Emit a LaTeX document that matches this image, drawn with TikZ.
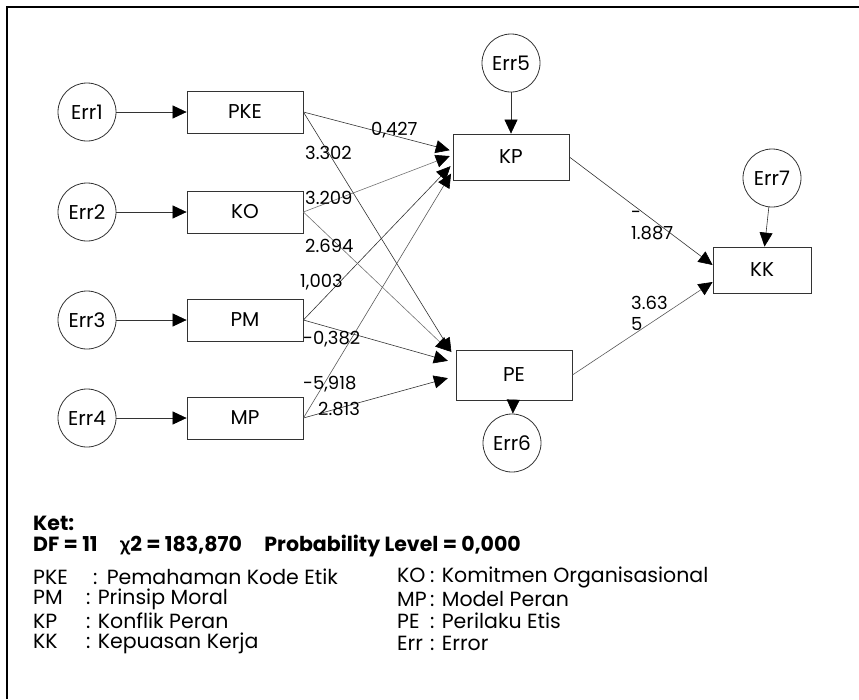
\documentclass[tikz,border=0pt]{standalone}
\usepackage{fontspec}
\setmainfont{Poppins}
\newfontfamily\greekfont{Lato}
\usetikzlibrary{arrows.meta,calc}

\newcommand{\abbr}[2]{\makebox[#1][l]{#2}}

\begin{document}
\begin{tikzpicture}[x=1pt, y=-1pt, >={Triangle[length=14pt,width=13pt,color=black]},
  txt/.style={font=\fontsize{20}{22}\selectfont},
  box/.style={txt, draw=black!80, line width=0.8pt, minimum width=116pt, minimum height=42pt, inner sep=0pt},
  err/.style={txt, draw=black!80, line width=0.8pt, circle, minimum size=58pt, inner sep=0pt},
  path/.style={->, draw=black!80, line width=0.6pt},
  wt/.style={font=\fontsize{18}{21}\selectfont, inner sep=0pt, anchor=west, align=left},
  leg/.style={font=\fontsize{20.5}{22}\selectfont, inner sep=0pt, anchor=west}]

\useasboundingbox (0,0) rectangle (859,699);
\draw[line width=1.6pt] (7,699) -- (7,7) -- (859,7);

\node[err] (e1) at (87,112) {Err1};
\node[err] (e2) at (87,212) {Err2};
\node[err] (e3) at (87,320) {Err3};
\node[err] (e4) at (87,418) {Err4};

\node[box] (pke) at (245,112) {PKE};
\node[box] (ko) at (245,212) {KO};
\node[box] (pm) at (245,320) {PM};
\node[box] (mp) at (245,418) {MP};

\node[box, minimum height=46pt] (kp) at (511,157) {KP};
\node[box, minimum height=50pt] (pe) at (514,375) {PE};
\node[box, minimum width=98pt, minimum height=46pt] (kk) at (762,270) {KK};

\node[err] (e5) at (511,63) {Err5};
\node[err] (e6) at (512,443) {Err6};
\node[err] (e7) at (772,178) {Err7};

\draw[path] (e1) -- (pke);
\draw[path] (e2) -- (ko);
\draw[path] (e3) -- (pm);
\draw[path] (e4) -- (mp);
\draw[path] (e5) -- (kp);
\draw[path] (pe) -- (e6);
\draw[path] (e7) -- (kk);

\draw[path, shorten >=3pt] (pke.east) -- ([yshift=6pt]kp.west);
\draw[path, draw=black!55, shorten >=3pt] (ko.east) -- ([yshift=2pt]kp.west);
\draw[path, shorten >=3pt] (pm.east) -- ([yshift=-7pt]kp.west);
\draw[path, draw=black!65, shorten >=3pt] (mp.east) -- ([yshift=-14pt]kp.west);

\draw[path, shorten >=8pt] (pke.east) -- ([yshift=16pt]pe.west);
\draw[path, draw=black!55, shorten >=8pt] (ko.east) -- ([yshift=18pt]pe.west);
\draw[path, shorten >=8pt] (pm.east) -- ([yshift=12pt]pe.west);
\draw[path, shorten >=8pt] (mp.east) -- ([yshift=-1pt]pe.west);

\draw[path] (kp.east) -- ([yshift=5pt]kk.west);
\draw[path, draw=black!65] (pe.east) -- ([yshift=-12pt]kk.west);

\node[wt] (w1) at (371,130) {0,427};
\node[wt] (w2) at (305,153) {3.302};
\node[wt] (w3) at (305,198) {3.209};
\node[wt] (w4) at (305,246) {2.694};
\node[wt] (w5) at (300,282) {1,003};
\node[wt] (w6) at (303,339) {-0,382};
\node[wt] (w7) at (303,384) {-5,918};
\node[wt] (w8) at (318,409) {2.813};
\node[wt] (w9) at (631,226) {-\\1.887};
\node[wt] (w10) at (631,313) {3.63\\5};

\node[leg, font=\fontsize{20.5}{22}\bfseries] (ket) at (33,523) {Ket:};
\node[leg, font=\fontsize{20.5}{22}\bfseries] (df) at (33,546)
  {DF = 11\hspace{1.1em}{\greekfont χ}2 = 183,870\hspace{1.1em}Probability Level = 0,000};
\node[leg] (l1) at (33,577) {\abbr{60pt}{PKE}:\hspace{0.45em}Pemahaman Kode Etik};
\node[leg] (l2) at (33,599) {\abbr{53pt}{PM}: Prinsip Moral};
\node[leg] (l3) at (33,621) {\abbr{53pt}{KP}: Konflik Peran};
\node[leg] (l4) at (33,643) {\abbr{53pt}{KK}: Kepuasan Kerja};
\node[leg] (r1) at (397,577) {\abbr{33pt}{KO}: Komitmen Organisasional};
\node[leg] (r2) at (397,599) {\abbr{33pt}{MP}: Model Peran};
\node[leg] (r3) at (397,621) {\abbr{33pt}{PE}: Perilaku Etis};
\node[leg] (r4) at (397,643) {\abbr{33pt}{Err}: Error};

\end{tikzpicture}
\end{document}
